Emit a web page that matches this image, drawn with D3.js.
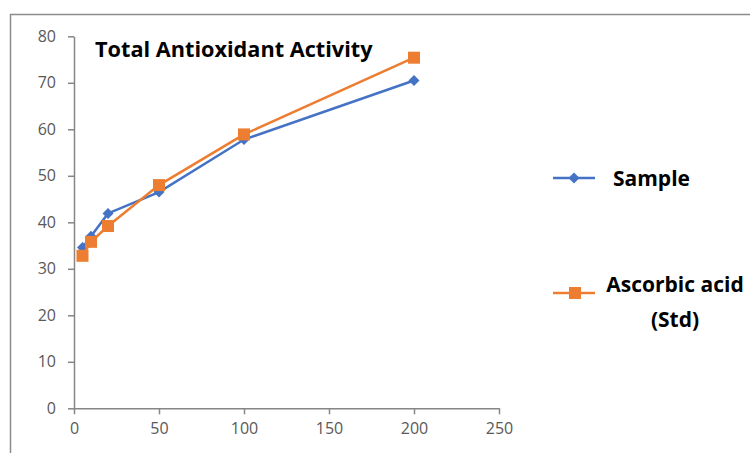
<!DOCTYPE html>
<html><head><meta charset="utf-8">
<script src="https://cdn.jsdelivr.net/npm/d3@7"></script>
<style>body{margin:0;background:#fff}svg{display:block}</style>
</head><body>
<svg id="c" width="750" height="453"></svg>
<script>
const concentrations = [5, 10, 20, 50, 100, 200];
const sampleValues = [34.6, 37.0, 41.9, 46.5, 57.8, 70.5];
const ascorbicValues = [32.8, 35.8, 39.2, 48.0, 58.9, 75.4];
const xTicks = [0, 50, 100, 150, 200, 250];
const yTicks = [0, 10, 20, 30, 40, 50, 60, 70, 80];
const titleText = "Total Antioxidant Activity";
const seriesNames = ["Sample", ["Ascorbic acid", "(Std)"]];

const svg = d3.select("#c");
const font = "'Open Sans', 'Liberation Sans', sans-serif";
const axisColor = "#868686";
const labelColor = "#595959";
const blue = "#4472C4", orange = "#ED7D31";

// outer chart border
svg.append("rect").attr("x", 10.5).attr("y", 14.5).attr("width", 800).attr("height", 500)
  .attr("fill", "none").attr("stroke", "#8c8c8c").attr("stroke-width", 1.5);

const x = d3.scaleLinear().domain([0, 250]).range([74, 499]);
const y = d3.scaleLinear().domain([0, 80]).range([408.3, 36.3]);

// y axis
const ya = svg.append("g").attr("transform", "translate(74,0)")
  .call(d3.axisLeft(y).tickValues(yTicks).tickSize(6).tickPadding(12).tickSizeOuter(0));
// x axis
const xa = svg.append("g").attr("transform", "translate(0,408.3)")
  .call(d3.axisBottom(x).tickValues(xTicks).tickSize(6).tickPadding(8).tickSizeOuter(0));
[ya, xa].forEach(g => {
  g.select(".domain").attr("stroke", axisColor).attr("stroke-width", 1.5);
  g.selectAll(".tick line").attr("stroke", axisColor).attr("stroke-width", 1.5);
  g.selectAll(".tick text").attr("fill", labelColor).style("font-family", font).style("font-size", "16px");
});

// title
svg.append("text").attr("x", 95).attr("y", 57).text(titleText)
  .style("font-family", font).style("font-weight", "bold").style("font-size", "21.7px").attr("fill", "#000");

const line = d3.line().x(d => x(d[0])).y(d => y(d[1]));
const sData = concentrations.map((c, i) => [c, sampleValues[i]]);
const aData = concentrations.map((c, i) => [c, ascorbicValues[i]]);

function diamond(g, cx, cy, r) {
  g.append("path").attr("d", `M${cx},${cy - r}L${cx + r},${cy}L${cx},${cy + r}L${cx - r},${cy}Z`).attr("fill", blue);
}

svg.append("path").datum(sData).attr("d", line).attr("fill", "none").attr("stroke", blue).attr("stroke-width", 2.5);
const sm = svg.append("g");
sData.forEach(d => diamond(sm, x(d[0]), y(d[1]), 5.5));

svg.append("path").datum(aData).attr("d", line).attr("fill", "none").attr("stroke", orange).attr("stroke-width", 2.5);
svg.append("g").selectAll("rect").data(aData).join("rect")
  .attr("x", d => x(d[0]) - 6).attr("y", d => y(d[1]) - 6).attr("width", 12).attr("height", 12).attr("fill", orange);

// legend
const lg = svg.append("g");
const lf = "21px";
lg.append("line").attr("x1", 553).attr("x2", 595).attr("y1", 178).attr("y2", 178).attr("stroke", blue).attr("stroke-width", 2.5);
diamond(lg, 574, 178, 5.5);
lg.append("text").attr("x", 613).attr("y", 186).text(seriesNames[0])
  .style("font-family", font).style("font-weight", "bold").style("font-size", lf);
lg.append("line").attr("x1", 553).attr("x2", 595).attr("y1", 293).attr("y2", 293).attr("stroke", orange).attr("stroke-width", 2.5);
lg.append("rect").attr("x", 569).attr("y", 287).attr("width", 12).attr("height", 12).attr("fill", orange);
lg.append("text").attr("x", 675).attr("y", 292).attr("text-anchor", "middle").text(seriesNames[1][0])
  .style("font-family", font).style("font-weight", "bold").style("font-size", lf);
lg.append("text").attr("x", 675).attr("y", 327).attr("text-anchor", "middle").text(seriesNames[1][1])
  .style("font-family", font).style("font-weight", "bold").style("font-size", lf);
</script>
</body></html>
